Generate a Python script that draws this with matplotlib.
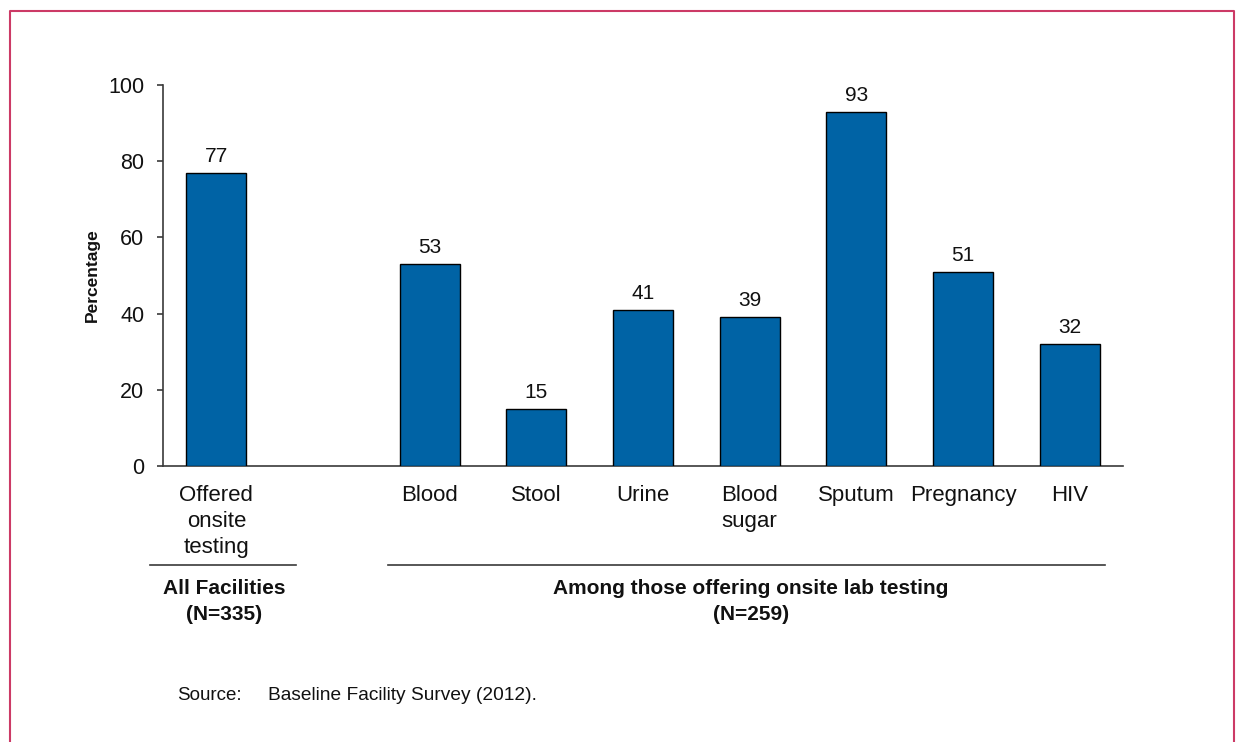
import matplotlib
matplotlib.use("Agg")
import matplotlib.pyplot as plt
from matplotlib.lines import Line2D

plt.rcParams['font.family'] = ['Liberation Sans', 'DejaVu Sans']

# Category slots (an empty slot separates the two groups)
categories = ["Offered\nonsite\ntesting", "", "Blood", "Stool", "Urine",
              "Blood\nsugar", "Sputum", "Pregnancy", "HIV"]
values = [77, None, 53, 15, 41, 39, 93, 51, 32]
y_ticks = [0, 20, 40, 60, 80, 100]
group_labels = [["All Facilities", "(N=335)"],
                ["Among those offering onsite lab testing", "(N=259)"]]
source_head = "Source:"
source_body = "Baseline Facility Survey (2012)."

bar_color = "#0063A5"
spine_color = "#3a3a3a"
text_color = "#111111"

fig = plt.figure(figsize=(12.43, 7.42), dpi=100)
ax = fig.add_axes([163 / 1243, 1 - 466 / 742, 960 / 1243, 381 / 742])

xs = [i for i, v in enumerate(values) if v is not None]
hs = [v for v in values if v is not None]
ax.bar(xs, hs, width=0.565, color=bar_color, edgecolor="black",
       linewidth=1.0, zorder=3)
for x, v in zip(xs, hs):
    ax.annotate(f"{v}", (x, v), xytext=(0, 5), textcoords="offset points",
                ha="center", va="bottom", fontsize=15, color=text_color)

ax.set_xlim(-0.5, len(categories) - 0.5)
ax.set_ylim(0, 100)
ax.set_yticks(y_ticks)
ax.tick_params(axis="y", direction="out", length=4.5, width=1.2,
               color=spine_color, labelsize=15.5, labelcolor=text_color,
               pad=9)
ax.set_xticks(range(len(categories)))
ax.set_xticklabels(categories, fontsize=16, linespacing=1.3, va="top",
                   color=text_color)
ax.tick_params(axis="x", length=0, pad=14)

for side in ("top", "right"):
    ax.spines[side].set_visible(False)
for side in ("left", "bottom"):
    ax.spines[side].set_color(spine_color)
    ax.spines[side].set_linewidth(1.2)

ax.set_ylabel("Percentage", fontsize=12.5, fontweight="bold",
              color=text_color)
ax.yaxis.set_label_coords((100 - 163) / 960, 0.5)

# Group divider lines and captions below the category labels
W, H = 1243, 742
def fx(px):
    return px / W
def fy(py):
    return 1 - py / H

fig.add_artist(Line2D([fx(150), fx(296)], [fy(565), fy(565)],
                      color=spine_color, linewidth=1.2))
fig.add_artist(Line2D([fx(388), fx(1105)], [fy(565), fy(565)],
                      color=spine_color, linewidth=1.2))
for cx, lines in zip([224, 751], group_labels):
    for row, line in enumerate(lines):
        fig.text(fx(cx), fy(588 + 26 * row), line, ha="center",
                 va="center", fontsize=15, fontweight="bold",
                 color=text_color)

fig.text(fx(177), fy(695), source_head, ha="left", va="center",
         fontsize=13.5, color=text_color)
fig.text(fx(268), fy(695), source_body, ha="left", va="center",
         fontsize=13.8, color=text_color)

# Frame around the figure (left, top and right edges)
frame_color = "#CC3A66"
fig.add_artist(Line2D([fx(10), fx(10), fx(1234), fx(1234)],
                      [0, fy(11), fy(11), 0], color=frame_color,
                      linewidth=1.5))

fig.savefig("out.png", dpi=100)
